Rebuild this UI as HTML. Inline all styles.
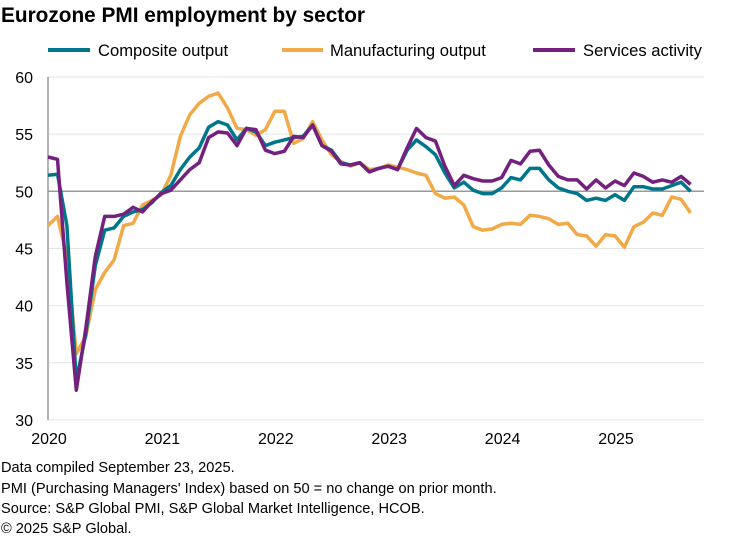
<!DOCTYPE html>
<html><head><meta charset="utf-8"><style>
body{margin:0;background:#fff;font-family:"Liberation Sans",Arial,sans-serif}
</style></head><body>
<svg id="c" width="749" height="538" xmlns="http://www.w3.org/2000/svg" font-family="Liberation Sans, Arial, sans-serif">
<text x="1" y="22" font-size="20.8" font-weight="bold" fill="#000">Eurozone PMI employment by sector</text>
<line x1="48" y1="50" x2="90" y2="50" stroke="#00768a" stroke-width="4"/>
<text x="98" y="56" font-size="16.6">Composite output</text>
<line x1="282" y1="50" x2="323" y2="50" stroke="#f2a948" stroke-width="4"/>
<text x="330" y="56" font-size="16.6">Manufacturing output</text>
<line x1="533" y1="50" x2="575" y2="50" stroke="#74207f" stroke-width="4"/>
<text x="583" y="56" font-size="16.6">Services activity</text>
<g id="grid"></g>
<g id="series"></g>
<g font-size="14.6" fill="#000">
<text x="1" y="472">Data compiled September 23, 2025.</text>
<text x="1" y="493">PMI (Purchasing Managers' Index) based on 50 = no change on prior month.</text>
<text x="1" y="513">Source: S&amp;P Global PMI, S&amp;P Global Market Intelligence, HCOB.</text>
<text x="1" y="533">© 2025 S&amp;P Global.</text>
</g>
</svg>
<script>
function Y(v){return 77+(60-v)*11.43;}
function X(i){return 48+i*9.45;}
var g=document.getElementById('grid'),h='';
[60,55,45,40,35,30].forEach(function(v){h+='<line x1="48" x2="704" y1="'+Y(v)+'" y2="'+Y(v)+'" stroke="#e4e4e4" stroke-width="1"/>';});
[60,55,50,45,40,35,30].forEach(function(v){h+='<text x="33" y="'+(Y(v)+6)+'" font-size="16" text-anchor="end">'+v+'</text>';});
h+='<line x1="48" x2="704" y1="'+Y(50)+'" y2="'+Y(50)+'" stroke="#999" stroke-width="1.5"/>';
h+='<line x1="48" x2="48" y1="'+Y(60)+'" y2="'+Y(30)+'" stroke="#999" stroke-width="1.5"/>';
[2020,2021,2022,2023,2024,2025].forEach(function(y,k){h+='<text x="'+(X(k*12)+1)+'" y="444" font-size="16" text-anchor="middle">'+y+'</text>';});
g.innerHTML=h;
var comp=[51.4,51.5,47.0,33.4,37.5,43.5,46.6,46.8,47.8,48.2,48.4,49.0,
49.9,50.5,51.9,53.0,53.8,55.6,56.1,55.8,54.5,55.5,55.2,54.0,
54.3,54.5,54.7,54.8,55.8,54.0,53.6,52.5,52.3,52.5,51.7,52.0,
52.2,51.9,53.6,54.5,53.9,53.2,51.6,50.3,50.8,50.1,49.8,49.8,
50.3,51.2,51.0,52.0,52.0,51.0,50.3,50.0,49.8,49.2,49.4,49.2,
49.7,49.2,50.4,50.4,50.2,50.2,50.5,50.8,50.0];
var man=[47.0,47.8,44.3,35.8,37.3,41.4,42.9,44.0,47.0,47.2,48.8,49.2,
49.7,51.4,54.8,56.7,57.7,58.3,58.6,57.3,55.5,55.4,54.9,55.4,
57.0,57.0,54.2,54.6,56.1,54.5,53.2,52.6,52.2,52.5,51.9,52.0,
52.3,52.1,51.9,51.6,51.4,49.8,49.4,49.5,48.8,46.9,46.6,46.7,
47.1,47.2,47.1,47.9,47.8,47.6,47.1,47.2,46.2,46.1,45.2,46.2,
46.1,45.1,46.9,47.3,48.1,47.9,49.5,49.3,48.1];
var serv=[53.0,52.8,42.0,32.6,38.0,44.3,47.8,47.8,48.0,48.6,48.2,49.1,
49.8,50.1,51.0,51.9,52.5,54.7,55.2,55.1,54.0,55.5,55.4,53.6,
53.3,53.5,54.8,54.7,55.8,54.0,53.5,52.4,52.3,52.5,51.7,52.0,
52.2,51.9,53.8,55.5,54.7,54.4,52.2,50.5,51.4,51.1,50.9,50.9,
51.2,52.7,52.4,53.5,53.6,52.3,51.3,51.0,51.0,50.2,51.0,50.3,
50.9,50.5,51.6,51.3,50.8,51.0,50.8,51.3,50.6];
var s='';
[[man,'#f2a948'],[comp,'#00768a'],[serv,'#74207f']].forEach(function(p){
 s+='<polyline fill="none" stroke="'+p[1]+'" stroke-width="3.5" stroke-linejoin="round" points="'+p[0].map(function(v,i){return X(i).toFixed(1)+','+Y(v).toFixed(1)}).join(' ')+'"/>';});
document.getElementById('series').innerHTML=s;
</script>
</body></html>
